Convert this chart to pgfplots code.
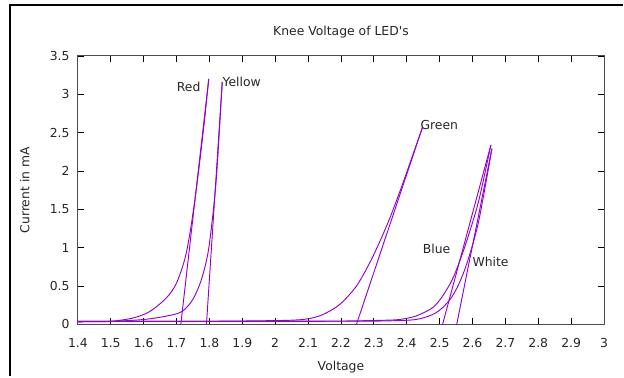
\documentclass[border=0pt]{standalone}
\usepackage{fontspec}
\setmainfont{DejaVu Sans}[Ligatures=TeXOff]
\usepackage{pgfplots}
\pgfplotsset{compat=1.18}
\definecolor{gpviolet}{RGB}{148,0,211}
\begin{document}
\fontsize{9.3}{11}\selectfont
\begin{tikzpicture}
\begin{axis}[
  scale only axis,
  width=395.25pt, height=201.75pt,
  xmin=1.4, xmax=3, ymin=0, ymax=3.5,
  xtick={1.4,1.5,1.6,1.7,1.8,1.9,2,2.1,2.2,2.3,2.4,2.5,2.6,2.7,2.8,2.9,3},
  ytick={0,0.5,1,1.5,2,2.5,3,3.5},
  tick pos=both, tick align=inside,
  major tick length=4.5pt,
  every tick/.style={black, line width=0.6pt},
  axis line style={black!70, line width=0.75pt},
  /pgf/number format/assume math mode=true,
  font=\fontsize{9.3}{11}\selectfont,
  tick label style={font=\fontsize{9.3}{11}\selectfont, text=black!85},
  xticklabel style={yshift=-7pt},
  yticklabel style={xshift=-3pt},
  title={Knee Voltage of LED's},
  title style={at={(axis description cs:0.5,1.0763)}, anchor=base, yshift=-6pt, text=black!85},
  xlabel={Voltage},
  xlabel style={at={(axis description cs:0.5,-0.173)}, anchor=base, text=black!85},
  ylabel={Current in mA},
  ylabel style={at={(axis description cs:-0.0921,0.5)}, anchor=base, text=black!85},
  clip=true,
]
% Red
\addplot[gpviolet, line width=0.7pt, smooth] coordinates {(1.40,0.035) (1.45,0.036) (1.50,0.04) (1.568,0.085) (1.619,0.17) (1.67,0.35) (1.70,0.54) (1.725,0.85) (1.74,1.17) (1.755,1.6) (1.77,2.1) (1.784,2.62) (1.798,3.2)};
\addplot[gpviolet, line width=0.7pt] coordinates {(1.713,0) (1.798,3.2)};
% Yellow
\addplot[gpviolet, line width=0.7pt, smooth] coordinates {(1.40,0.035) (1.50,0.04) (1.60,0.065) (1.67,0.11) (1.717,0.17) (1.75,0.33) (1.776,0.59) (1.796,0.94) (1.811,1.45) (1.821,1.9) (1.83,2.5) (1.839,3.16)};
\addplot[gpviolet, line width=0.7pt] coordinates {(1.791,0) (1.839,3.16)};
% Green
\addplot[gpviolet, line width=0.7pt, smooth] coordinates {(1.40,0.04) (1.80,0.042) (1.95,0.048) (2.045,0.055) (2.10,0.074) (2.145,0.13) (2.196,0.26) (2.247,0.5) (2.287,0.8) (2.317,1.07) (2.348,1.38) (2.378,1.72) (2.408,2.08) (2.448,2.57)};
\addplot[gpviolet, line width=0.7pt] coordinates {(2.247,0) (2.448,2.57)};
% Blue
\addplot[gpviolet, line width=0.7pt, smooth] coordinates {(1.40,0.04) (2.10,0.043) (2.25,0.048) (2.33,0.055) (2.378,0.065) (2.428,0.11) (2.479,0.22) (2.509,0.37) (2.539,0.59) (2.565,0.87) (2.59,1.19) (2.62,1.63) (2.656,2.34)};
\addplot[gpviolet, line width=0.7pt] coordinates {(2.509,0) (2.656,2.34)};
% White
\addplot[gpviolet, line width=0.7pt, smooth] coordinates {(1.40,0.04) (2.20,0.042) (2.35,0.048) (2.428,0.065) (2.479,0.13) (2.509,0.22) (2.539,0.37) (2.565,0.59) (2.59,0.89) (2.62,1.37) (2.659,2.29)};
\addplot[gpviolet, line width=0.7pt] coordinates {(2.552,0) (2.659,2.29)};
\node[text=black!85] at (axis cs:1.737,3.10) {Red};
\node[text=black!85] at (axis cs:1.898,3.16) {Yellow};
\node[text=black!85] at (axis cs:2.499,2.60) {Green};
\node[text=black!85] at (axis cs:2.491,0.99) {Blue};
\node[text=black!85] at (axis cs:2.655,0.81) {White};
\end{axis}
\draw[line width=1.5pt, black] (-51pt,-39pt) -- (-51pt,240pt) -- (409.5pt,240pt);
\useasboundingbox (-58.5pt,-39pt) rectangle (409.5pt,243.75pt);
\end{tikzpicture}
\end{document}
